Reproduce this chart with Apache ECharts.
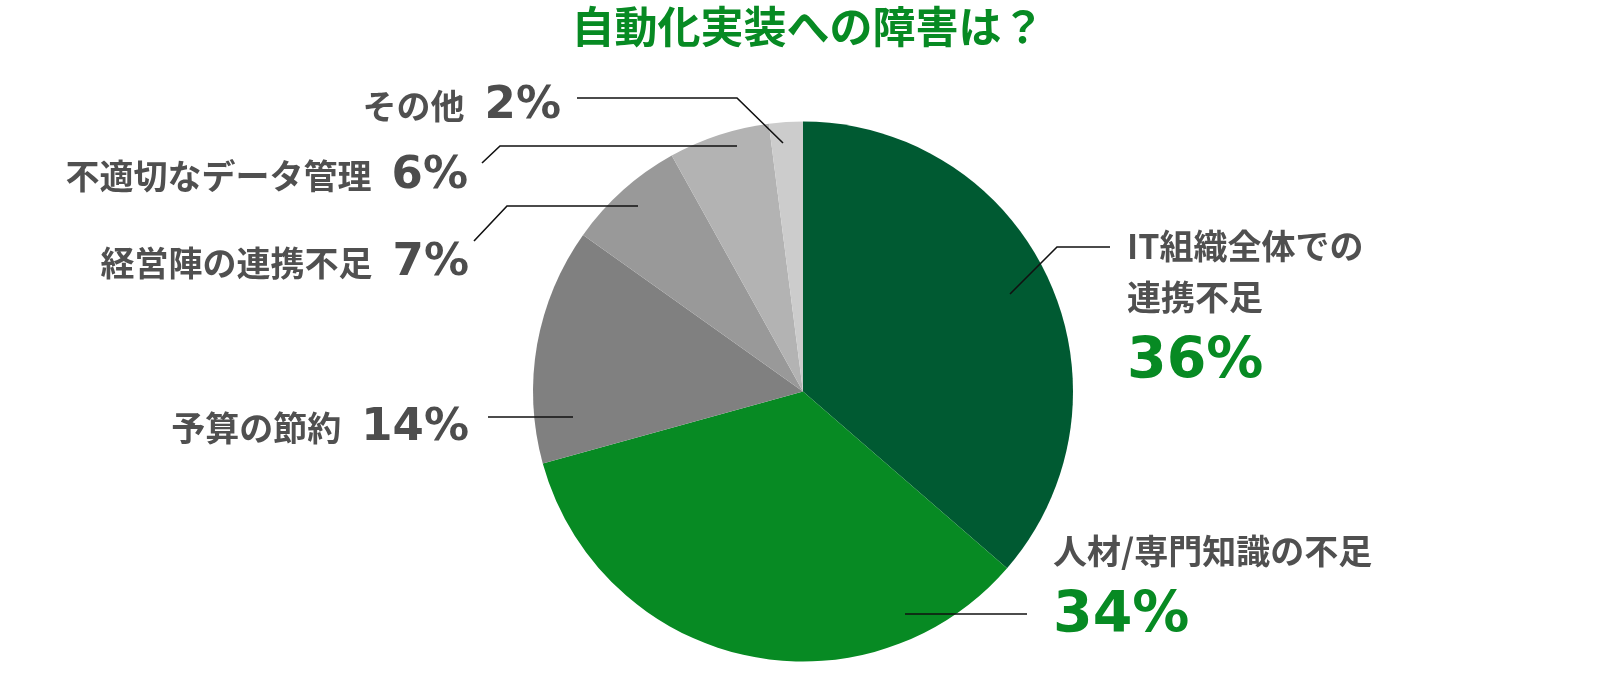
<!DOCTYPE html>
<html>
<head>
<meta charset="utf-8">
<script src="https://cdn.jsdelivr.net/npm/echarts@6/dist/echarts.min.js"></script>
<style>
html, body { margin: 0; background: #fff; }
#main { width: 1600px; height: 674px; }
</style>
</head>
<body>
<div id="main"></div>
<script>
// データ
var names = ['IT組織全体での\n連携不足', '人材/専門知識の不足', '予算の節約', '経営陣の連携不足', '不適切なデータ管理', 'その他'];
var values = [36, 34, 14, 7, 6, 2];
var colors = ['#005a32', '#078a23', '#808080', '#999999', '#b3b3b3', '#cccccc'];

// ラベルの配置と引き出し線（レイアウト用）
var callouts = [
    {side: 'right', x: 1127, y: 221, line: [[1010, 294], [1057, 247], [1110, 247]]},
    {side: 'right', x: 1053, y: 526, line: [[905, 614], [966, 614], [1027, 614]]},
    {side: 'left', x: 469, y: 428, line: [[573, 417], [530, 417], [488, 417]]},
    {side: 'left', x: 469, y: 263, line: [[638, 206], [507, 206], [474, 241]]},
    {side: 'left', x: 468, y: 176, line: [[737, 146], [500, 146], [482, 163]]},
    {side: 'left', x: 561, y: 106, line: [[783, 143], [737, 98], [577, 98]]}
];

var myChart = echarts.init(document.getElementById('main'));

var pieData = names.map(function (n, i) {
    return {name: n, value: values[i], itemStyle: {color: colors[i]}};
});

var pieBase = {
    type: 'pie',
    center: [803, 391.5],
    radius: 270,
    startAngle: 90,
    clockwise: true,
    avoidLabelOverlap: false,
    silent: true
};

var option = {
    animation: false,
    title: {
        text: '自動化実装への障害は？',
        left: 803,
        textAlign: 'center',
        top: 0,
        textStyle: {
            fontFamily: 'Noto Sans CJK JP',
            fontSize: 43,
            fontWeight: 'bold',
            color: '#078a23'
        }
    },
    series: [
        // 扇形
        Object.assign({}, pieBase, {
            z: 2,
            label: {show: false},
            labelLine: {show: false},
            data: pieData
        }),
        // ラベルと引き出し線（扇形の上に描く）
        Object.assign({}, pieBase, {
            z: 5,
            itemStyle: {color: 'rgba(0,0,0,0)'},
            label: {
                show: true,
                position: 'outside',
                formatter: function (p) {
                    if (callouts[p.dataIndex].side === 'right') {
                        return '{n|' + p.name + '}\n{gr|' + p.value + '%}';
                    }
                    return '{n|' + p.name + '}{gl|' + p.value + '%}';
                },
                rich: {
                    n: {
                        fontFamily: 'Noto Sans CJK JP',
                        fontSize: 34,
                        fontWeight: 'bold',
                        color: '#505050',
                        lineHeight: 51
                    },
                    gl: {
                        fontFamily: 'DejaVu Sans',
                        fontSize: 45,
                        fontWeight: 'bold',
                        color: '#4d4d4d',
                        padding: [0, 0, 0, 20]
                    },
                    gr: {
                        fontFamily: 'DejaVu Sans',
                        fontSize: 57,
                        fontWeight: 'bold',
                        color: '#078a23',
                        lineHeight: 80
                    }
                }
            },
            labelLine: {
                show: true,
                lineStyle: {color: '#111', width: 1.6}
            },
            labelLayout: function (params) {
                var c = callouts[params.dataIndex];
                return {
                    x: c.x,
                    y: c.y,
                    align: c.side === 'right' ? 'left' : 'right',
                    verticalAlign: c.side === 'right' ? 'top' : 'middle',
                    labelLinePoints: c.line
                };
            },
            data: names.map(function (n, i) {
                return {name: n, value: values[i]};
            })
        })
    ]
};

myChart.setOption(option);
</script>
</body>
</html>
